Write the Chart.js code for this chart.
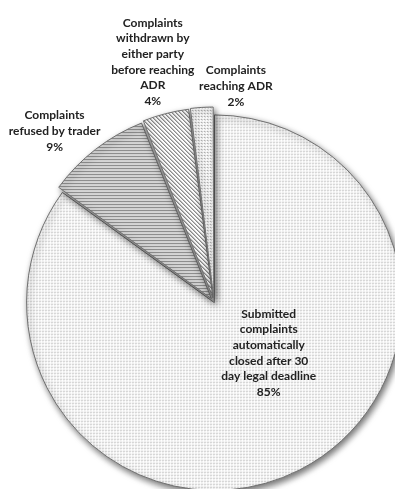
<!DOCTYPE html>
<html lang="en">
<head>
    <meta charset="UTF-8">
    <title>Complaints</title>
    <script src="https://cdn.jsdelivr.net/npm/chart.js"></script>
    <style>
        html, body { margin: 0; padding: 0; background: #fff; }
        #wrap { width: 395px; height: 489px; }
    </style>
</head>
<body>
    <div id="wrap"><canvas id="myChart"></canvas></div>
    <script>
        // Données
        const categories = [
            ['Submitted', 'complaints', 'automatically', 'closed after 30', 'day legal deadline'],
            ['Complaints', 'refused by trader'],
            ['Complaints', 'withdrawn by', 'either party', 'before reaching', 'ADR'],
            ['Complaints', 'reaching ADR']
        ];
        const values = [85, 9, 4, 2];
        const explode = [3, 17, 17, 17];
        // label placement: angle (deg, clockwise from top) and distance as a fraction of radius
        const labelAngle = [133, 317, 345.7, 5.8];
        const labelDist = [0.40, 1.25, 1.325, 1.16];

        // motifs
        function makePattern(kind) {
            const c = document.createElement('canvas');
            const s = kind === 'diag' ? 4 : 3;
            c.width = s; c.height = s;
            const g = c.getContext('2d');
            g.fillStyle = '#fff';
            g.fillRect(0, 0, s, s);
            if (kind === 'dots') {
                g.fillStyle = '#b2b2b2';
                g.fillRect(0, 0, 1, 1);
                g.fillStyle = '#dcdcdc';
                g.fillRect(1, 0, 1, 1);
                g.fillRect(0, 1, 1, 1);
            } else if (kind === 'hlines') {
                g.fillStyle = '#7a7a7a';
                g.fillRect(0, 0, s, 1);
                g.fillStyle = '#bdbdbd';
                g.fillRect(0, 1, s, 1);
            } else if (kind === 'diag') {
                g.fillStyle = '#858585';
                for (let i = 0; i < s; i++) g.fillRect(i, i, 1, 1);
                g.fillStyle = '#c4c4c4';
                for (let i = 0; i < s; i++) g.fillRect((i + 1) % s, i, 1, 1);
            } else if (kind === 'dense') {
                g.fillStyle = '#949494';
                g.fillRect(0, 0, 1, 1);
                g.fillStyle = '#c8c8c8';
                g.fillRect(1, 1, 1, 1);
                g.fillRect(1, 0, 1, 1);
            }
            return g.createPattern(c, 'repeat');
        }
        const fills = [makePattern('dots'), makePattern('hlines'), makePattern('diag'), makePattern('dense')];

        // ombre des parts
        const shadowPlugin = {
            id: 'shadow',
            beforeDatasetsDraw(chart) {
                const ctx = chart.ctx;
                ctx.save();
                ctx.shadowColor = 'rgba(0,0,0,0.55)';
                ctx.shadowBlur = 6;
                ctx.shadowOffsetX = 2;
                ctx.shadowOffsetY = 3;
            },
            afterDatasetsDraw(chart) {
                chart.ctx.restore();
            }
        };

        // étiquettes
        const labelPlugin = {
            id: 'sliceLabels',
            afterDatasetsDraw(chart) {
                const ctx = chart.ctx;
                const arcs = chart.getDatasetMeta(0).data;
                const total = values.reduce((a, b) => a + b, 0);
                ctx.save();
                ctx.font = 'bold 12px Lato';
                ctx.fillStyle = '#222';
                ctx.textAlign = 'center';
                ctx.textBaseline = 'middle';
                const lh = 15.6;
                arcs.forEach((arc, i) => {
                    const cx = chart.chartArea.left + chart.chartArea.width / 2;
                    const cy = chart.chartArea.top + chart.chartArea.height / 2;
                    const a = labelAngle[i] * Math.PI / 180;
                    const d = arc.outerRadius * labelDist[i];
                    const x = cx + Math.sin(a) * d;
                    const y = cy - Math.cos(a) * d;
                    const lines = categories[i].concat([Math.round(values[i] / total * 100) + '%']);
                    const y0 = y - (lines.length - 1) * lh / 2;
                    lines.forEach((t, k) => ctx.fillText(t, x, y0 + k * lh));
                });
                ctx.restore();
            }
        };

        new Chart(document.getElementById('myChart'), {
            type: 'pie',
            data: {
                labels: categories.map(c => c.join(' ')),
                datasets: [{
                    data: values,
                    backgroundColor: fills,
                    borderColor: '#707070',
                    borderWidth: 1,
                    offset: explode,
                    radius: 187,
                    clip: false
                }]
            },
            options: {
                responsive: true,
                maintainAspectRatio: false,
                animation: false,
                layout: { padding: { left: 33, top: 115, right: 0, bottom: 0 } },
                plugins: {
                    legend: { display: false },
                    tooltip: { enabled: false }
                }
            },
            plugins: [shadowPlugin, labelPlugin]
        });
    </script>
</body>
</html>
